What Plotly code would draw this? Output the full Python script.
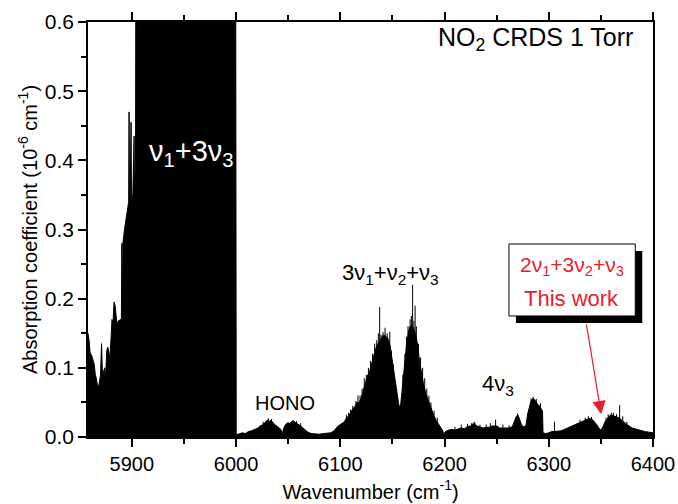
import plotly.graph_objects as go

# ---------------- data ----------------
# Envelope of the NO2 CRDS spectrum (wavenumber in cm-1, absorption in 1e-6 cm-1)
# values above 0.6 are off-scale (saturated nu1+3nu3 band)
wavenumber = [
    5858, 5859, 5860, 5861.5, 5863, 5864, 5865, 5866, 5867, 5868, 5869, 5870,
    5871, 5871.5, 5872, 5873, 5874, 5874.5, 5875, 5876, 5877, 5878, 5879, 5880,
    5881, 5882, 5883, 5884, 5885, 5886, 5887, 5888, 5889, 5890, 5890.5, 5891,
    5891.5, 5892, 5893, 5894, 5895, 5896, 5897, 5897.4, 5897.8, 5898.5, 5899.3,
    5899.7, 5901, 5902.2, 5902.6, 5903.6, 5904, 5906.6, 5907, 5907.4, 5908.6,
    5909, 5909.4, 5950, 5999.6,
    6000.2, 6003, 6006, 6009, 6012, 6015, 6018, 6021, 6023, 6025, 6027, 6029,
    6031, 6032, 6033, 6035, 6037, 6039, 6041, 6043, 6044.5, 6045.5, 6047, 6049,
    6051, 6053, 6055, 6057, 6059, 6061, 6063, 6065, 6067, 6069, 6072, 6076,
    6080, 6084, 6088, 6091, 6094, 6096, 6098, 6100, 6102, 6104, 6106, 6108,
    6110, 6112, 6114, 6116, 6118, 6120, 6122, 6124, 6126, 6128, 6130, 6132,
    6134, 6136, 6138, 6140, 6142, 6144, 6146, 6148, 6150, 6152, 6154, 6156,
    6157.5, 6159, 6160.5, 6162, 6164, 6166, 6167, 6169, 6170, 6172, 6174, 6176,
    6178, 6180, 6182, 6184, 6186, 6188, 6190, 6192, 6194, 6196, 6198, 6199.5,
    6201, 6204, 6207, 6210, 6213, 6216, 6219, 6222, 6225, 6228, 6231, 6234,
    6237, 6240, 6243, 6246, 6250, 6253, 6256, 6259, 6262, 6265, 6267, 6269,
    6270.5, 6272, 6274, 6276, 6278, 6280, 6281.5, 6283, 6285, 6287, 6289, 6291,
    6293, 6294, 6294.5, 6297, 6300, 6303, 6306, 6309, 6312, 6315, 6318, 6321,
    6324, 6327, 6330, 6333, 6336, 6339, 6342, 6344, 6346, 6348, 6350, 6352,
    6354, 6356, 6358, 6360, 6362, 6364, 6366, 6368.5, 6370, 6373, 6376, 6380,
    6384, 6388, 6392, 6396, 6400,
]
absorption = [
    0.150, 0.140, 0.122, 0.118, 0.110, 0.105, 0.090, 0.085, 0.075, 0.072, 0.080, 0.090,
    0.135, 0.090, 0.085, 0.095, 0.100, 0.075, 0.090, 0.125, 0.130, 0.120, 0.115, 0.140,
    0.170, 0.165, 0.195, 0.190, 0.170, 0.160, 0.168, 0.168, 0.170, 0.170, 0.280, 0.175,
    0.280, 0.290, 0.300, 0.310, 0.320, 0.330, 0.340, 0.470, 0.340, 0.345, 0.455,
    0.345, 0.350, 0.435, 0.360, 0.400, 0.800, 0.800, 0.580, 0.800, 0.800,
    0.575, 0.800, 0.800, 0.800,
    0.003, 0.004, 0.006, 0.005, 0.008, 0.009, 0.011, 0.013, 0.016, 0.017, 0.020, 0.022,
    0.025, 0.022, 0.024, 0.022, 0.018, 0.016, 0.013, 0.011, 0.004, 0.012, 0.017, 0.020,
    0.019, 0.022, 0.023, 0.021, 0.020, 0.018, 0.015, 0.012, 0.009, 0.007, 0.005, 0.004,
    0.004, 0.005, 0.005, 0.006, 0.009, 0.013, 0.016, 0.018, 0.020, 0.022, 0.028, 0.030,
    0.036, 0.040, 0.044, 0.050, 0.050, 0.056, 0.068, 0.078, 0.088, 0.094, 0.105, 0.118,
    0.128, 0.135, 0.138, 0.145, 0.148, 0.145, 0.142, 0.130, 0.110, 0.090, 0.065, 0.048,
    0.040, 0.060, 0.085, 0.110, 0.140, 0.155, 0.160, 0.160, 0.158, 0.150, 0.135, 0.110,
    0.090, 0.075, 0.063, 0.055, 0.045, 0.036, 0.030, 0.024, 0.019, 0.015, 0.010, 0.004,
    0.008, 0.010, 0.011, 0.010, 0.012, 0.013, 0.012, 0.015, 0.016, 0.020, 0.016, 0.014,
    0.013, 0.014, 0.014, 0.016, 0.016, 0.013, 0.013, 0.012, 0.013, 0.015, 0.022, 0.030,
    0.032, 0.025, 0.017, 0.015, 0.016, 0.035, 0.045, 0.052, 0.056, 0.053, 0.048, 0.045,
    0.040, 0.038, 0.006, 0.005, 0.006, 0.008, 0.008, 0.008, 0.009, 0.011, 0.013, 0.015,
    0.017, 0.019, 0.021, 0.023, 0.025, 0.027, 0.025, 0.022, 0.018, 0.013, 0.010, 0.015,
    0.022, 0.026, 0.030, 0.032, 0.031, 0.030, 0.029, 0.027, 0.024, 0.020, 0.017, 0.013,
    0.011, 0.009, 0.008, 0.007, 0.006,
]

# Individual sharp lines standing above the envelope
line_wn = [
    6026, 6029, 6031, 6034, 6050, 6054, 6058, 6062,
    6106, 6108, 6110, 6112, 6115, 6117, 6119, 6121, 6123, 6125, 6127, 6129, 6131,
    6133, 6135, 6136.5, 6137.8, 6139, 6141, 6143, 6145, 6147.5, 6149, 6151, 6153,
    6160, 6162, 6163.5, 6165, 6167, 6168.2, 6169.4, 6170.6, 6171.8, 6173, 6175,
    6177, 6179, 6181, 6183, 6185, 6187, 6190, 6193,
    6210, 6216, 6222, 6226, 6229, 6234, 6240, 6244, 6249, 6256, 6262, 6268,
    6270, 6283, 6285, 6288, 6292, 6305.5,
    6330, 6335, 6338, 6341, 6355, 6357, 6360, 6362, 6365, 6368, 6371, 6375,
]
line_abs = [
    0.022, 0.024, 0.027, 0.026, 0.022, 0.024, 0.023, 0.020,
    0.032, 0.035, 0.040, 0.045, 0.052, 0.060, 0.060, 0.070, 0.085, 0.090, 0.100,
    0.110, 0.120, 0.135, 0.140, 0.150, 0.188, 0.148, 0.152, 0.158, 0.150, 0.152,
    0.125, 0.105, 0.080,
    0.090, 0.120, 0.145, 0.160, 0.170, 0.175, 0.220, 0.168, 0.190, 0.160, 0.135,
    0.115, 0.100, 0.085, 0.070, 0.060, 0.050, 0.038, 0.028,
    0.015, 0.018, 0.019, 0.020, 0.022, 0.018, 0.018, 0.020, 0.025, 0.018, 0.017,
    0.028, 0.034, 0.056, 0.058, 0.055, 0.049, 0.022,
    0.025, 0.028, 0.030, 0.029, 0.028, 0.033, 0.035, 0.035, 0.033, 0.046, 0.030,
    0.022,
]

x_ticks = [5900, 6000, 6100, 6200, 6300, 6400]
y_ticks = [0.0, 0.1, 0.2, 0.3, 0.4, 0.5, 0.6]

FONT = "Arial, Liberation Sans, sans-serif"
RED = "#e8202a"

fig = go.Figure()

fig.add_trace(go.Scatter(
    x=wavenumber, y=absorption, mode="lines",
    line=dict(color="black", width=1),
    fill="tozeroy", fillcolor="black", hoverinfo="skip", showlegend=False,
))

sx, sy = [], []
for w, a in zip(line_wn, line_abs):
    sx += [w, w, None]
    sy += [0, a, None]
fig.add_trace(go.Scatter(
    x=sx, y=sy, mode="lines", line=dict(color="black", width=1),
    hoverinfo="skip", showlegend=False,
))

# boxed label with drop shadow
fig.add_shape(type="rect", x0=6268.5, x1=6389.7, y0=0.165, y1=0.269,
              xref="x", yref="y", fillcolor="black", line=dict(width=0), layer="above")
fig.add_shape(type="rect", x0=6261.8, x1=6383.0, y0=0.175, y1=0.279,
              xref="x", yref="y", fillcolor="white", line=dict(color="black", width=1),
              layer="above")

annots = [
    dict(x=5957, y=0.41, text="ν<sub>1</sub>+3ν<sub>3</sub>",
         font=dict(size=29, color="white")),
    dict(x=6148.5, y=0.236, text="3ν<sub>1</sub>+ν<sub>2</sub>+ν<sub>3</sub>",
         font=dict(size=22, color="black")),
    dict(x=6046.5, y=0.049, text="HONO", font=dict(size=20, color="black")),
    dict(x=6251, y=0.075, text="4ν<sub>3</sub>", font=dict(size=22, color="black")),
    dict(x=6322, y=0.247, text="2ν<sub>1</sub>+3ν<sub>2</sub>+ν<sub>3</sub>",
         font=dict(size=21, color=RED)),
    dict(x=6322, y=0.2, text="This work", font=dict(size=22, color=RED)),
]
for a in annots:
    fig.add_annotation(xref="x", yref="y", showarrow=False,
                       font_family=FONT, **{k: v for k, v in a.items()})

fig.add_annotation(xref="paper", yref="paper", x=0.968, y=0.96, xanchor="right",
                   yanchor="middle", showarrow=False,
                   text="NO<sub>2</sub> CRDS 1 Torr",
                   font=dict(size=25, color="black", family=FONT))

# red arrow
fig.add_annotation(xref="x", yref="y", axref="x", ayref="y",
                   x=6350.3, y=0.033, ax=6335.9, ay=0.165, text="",
                   showarrow=True, arrowhead=2, arrowsize=2.2, arrowwidth=1.2,
                   arrowcolor=RED)

fig.update_layout(
    width=678, height=504,
    margin=dict(l=88, r=25, t=22, b=67, autoexpand=False),
    paper_bgcolor="white", plot_bgcolor="white",
    font=dict(family=FONT, size=20, color="black"),
    showlegend=False,
)
fig.update_xaxes(
    range=[5858, 6400], tickvals=x_ticks, ticks="outside", ticklen=8, tickwidth=1.5,
    minor=dict(dtick=50, ticks="outside", ticklen=5, tickwidth=1.5, tickcolor="black"),
    showline=True, linecolor="black", linewidth=1.5, mirror="ticks",
    showgrid=False, zeroline=False, tickcolor="black", automargin=False,
    tickfont=dict(size=20),
    title=dict(text="Wavenumber (cm<sup>-1</sup>)", font=dict(size=20), standoff=11),
)
fig.update_yaxes(
    range=[0, 0.6], tickvals=y_ticks, tickformat=".1f", ticks="outside", ticklen=8,
    tickwidth=1.5, automargin=False,
    minor=dict(dtick=0.05, ticks="outside", ticklen=5, tickwidth=1.5, tickcolor="black"),
    showline=True, linecolor="black", linewidth=1.5, mirror=True,
    showgrid=False, zeroline=False, tickcolor="black",
    tickfont=dict(size=21),
    title=dict(text="Absorption coefficient (10<sup>-6</sup> cm<sup>-1</sup>)",
               font=dict(size=20), standoff=2),
)

fig.write_html("out.html", config={"displayModeBar": False},
               post_script="document.body.style.margin='0px';"
                           "document.body.style.overflow='hidden';")
